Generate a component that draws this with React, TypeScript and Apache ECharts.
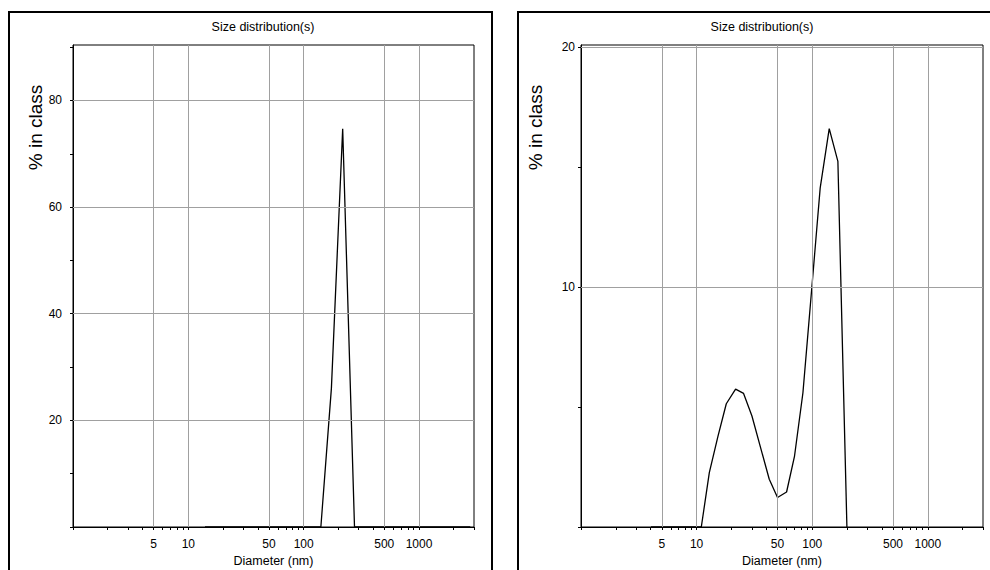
import React, { useEffect, useRef } from 'react';
import * as echarts from 'echarts';

// ---- data ----
const leftDiameters = [13.95, 141, 174, 218, 276, 2786];
const leftPercent = [0, 0, 26, 74.7, 0, 0];

const rightDiameters = [4.03, 10.98, 12.88, 15.31, 18.06, 21.73, 25.48, 30.1, 35.7, 42.5, 50.1, 60, 70.3, 83.1, 99.4, 117.2, 140.3, 166.7, 199.5];
const rightPercent = [0, 0, 2.27, 3.79, 5.14, 5.75, 5.57, 4.63, 3.32, 1.99, 1.23, 1.46, 2.96, 5.6, 10.03, 14.14, 16.61, 15.25, 0];

const xTickDiameters = [1, 2, 3, 4, 5, 6, 7, 8, 9, 10, 20, 30, 40, 50, 60, 70, 80, 90, 100, 200, 300, 400, 500, 600, 700, 800, 900, 1000, 2000, 3000];
const xLabelDiameters = [5, 10, 50, 100, 500, 1000];
const X_MAX_NM = 3000;

const leftYTicks = [0, 10, 20, 30, 40, 50, 60, 70, 80, 90];
const leftYLabels = [20, 40, 60, 80];
const LEFT_Y_MAX = 90.4;

const rightYTicks = [0, 5, 10, 15, 20];
const rightYLabels = [10, 20];
const RIGHT_Y_MAX = 20.1;

const titleText = 'Size distribution(s)';
const xName = 'Diameter (nm)';
const yName = '% in class';

const FONT = "'Liberation Sans', Arial, Helvetica, sans-serif";
const GRID_COLOR = '#a0a0a0';

const lg = (d: number) => Math.log10(d);

function xAxisFor(gridIndex: number) {
  return {
    type: 'value',
    gridIndex,
    min: 0,
    max: lg(X_MAX_NM),
    axisLine: { show: true, onZero: false, lineStyle: { color: '#000', width: 1 } },
    axisTick: {
      show: true,
      inside: false,
      length: 3,
      customValues: xTickDiameters.map(lg),
      lineStyle: { color: '#000', width: 1 },
    },
    axisLabel: {
      show: true,
      customValues: xLabelDiameters.map(lg),
      formatter: (v: number) => String(Math.round(Math.pow(10, v))),
      color: '#000',
      fontSize: 12,
      fontFamily: FONT,
      margin: 11,
    },
    splitLine: { show: false },
    name: xName,
    nameLocation: 'middle',
    nameGap: 26,
    nameTextStyle: { color: '#000', fontSize: 12.5, fontFamily: FONT },
  };
}

function yAxisFor(gridIndex: number, max: number, ticks: number[], labels: number[], margin: number) {
  return {
    type: 'value',
    gridIndex,
    min: 0,
    max,
    axisLine: { show: true, onZero: false, lineStyle: { color: '#000', width: 1 } },
    axisTick: {
      show: true,
      inside: false,
      length: 3,
      customValues: ticks,
      lineStyle: { color: '#000', width: 1 },
    },
    axisLabel: {
      show: true,
      customValues: labels,
      color: '#000',
      fontSize: 12,
      fontFamily: FONT,
      margin,
    },
    splitLine: { show: false },
  };
}

function gridMarkLine(yLines: number[]) {
  return {
    silent: true,
    symbol: ['none', 'none'],
    label: { show: false },
    emphasis: { disabled: true },
    animation: false,
    lineStyle: { color: GRID_COLOR, width: 1, type: 'solid' },
    data: [
      ...xLabelDiameters.map((d) => ({ xAxis: lg(d) })),
      ...yLines.map((v) => ({ yAxis: v })),
    ],
  };
}

function textEl(text: string, x: number, y: number, size: number, rotation = 0) {
  return {
    type: 'text',
    x,
    y,
    rotation,
    silent: true,
    style: {
      text,
      fill: '#000',
      font: `${size}px ${FONT}`,
      align: 'center',
      verticalAlign: 'middle',
      textAlign: 'center',
      textVerticalAlign: 'middle',
    },
  };
}

export default function App() {
  const ref = useRef<HTMLDivElement>(null);

  useEffect(() => {
    if (!ref.current) return;
    const chart = echarts.init(ref.current, null, { renderer: 'svg' });

    const option = {
      animation: false,
      backgroundColor: '#fff',
      grid: [
        { left: 73, top: 45, width: 401, height: 482, outerBoundsMode: 'none', containLabel: false, show: true, borderColor: '#000', borderWidth: 1, backgroundColor: 'transparent' },
        { left: 581, top: 45, width: 402, height: 482, outerBoundsMode: 'none', containLabel: false, show: true, borderColor: '#000', borderWidth: 1, backgroundColor: 'transparent' },
      ],
      xAxis: [xAxisFor(0), xAxisFor(1)],
      yAxis: [
        yAxisFor(0, LEFT_Y_MAX, leftYTicks, leftYLabels, 11),
        yAxisFor(1, RIGHT_Y_MAX, rightYTicks, rightYLabels, 6),
      ],
      series: [
        {
          type: 'line',
          xAxisIndex: 0,
          yAxisIndex: 0,
          data: leftDiameters.map((d, i) => [lg(d), leftPercent[i]]),
          showSymbol: false,
          symbol: 'none',
          lineStyle: { color: '#000', width: 1.3 },
          z: 3,
          markLine: gridMarkLine(leftYLabels),
        },
        {
          type: 'line',
          xAxisIndex: 1,
          yAxisIndex: 1,
          data: rightDiameters.map((d, i) => [lg(d), rightPercent[i]]),
          showSymbol: false,
          symbol: 'none',
          lineStyle: { color: '#000', width: 1.3 },
          z: 3,
          markLine: gridMarkLine(rightYLabels),
        },
      ],
      graphic: [
        {
          type: 'rect',
          silent: true,
          shape: { x: 9, y: 12, width: 483, height: 580 },
          style: { fill: 'none', stroke: '#000', lineWidth: 2 },
        },
        {
          type: 'rect',
          silent: true,
          shape: { x: 518, y: 12, width: 490, height: 580 },
          style: { fill: 'none', stroke: '#000', lineWidth: 2 },
        },
        textEl(titleText, 263, 26.5, 12.5),
        textEl(titleText, 762, 26.5, 12.5),
        textEl(yName, 35, 127.5, 19, Math.PI / 2),
        textEl(yName, 535, 127.5, 19, Math.PI / 2),
      ],
    };

    chart.setOption(option as any);
    return () => {
      chart.dispose();
    };
  }, []);

  return (
    <div
      ref={ref}
      style={{ position: 'fixed', left: 0, top: 0, width: 990, height: 570, background: '#fff' }}
    />
  );
}
